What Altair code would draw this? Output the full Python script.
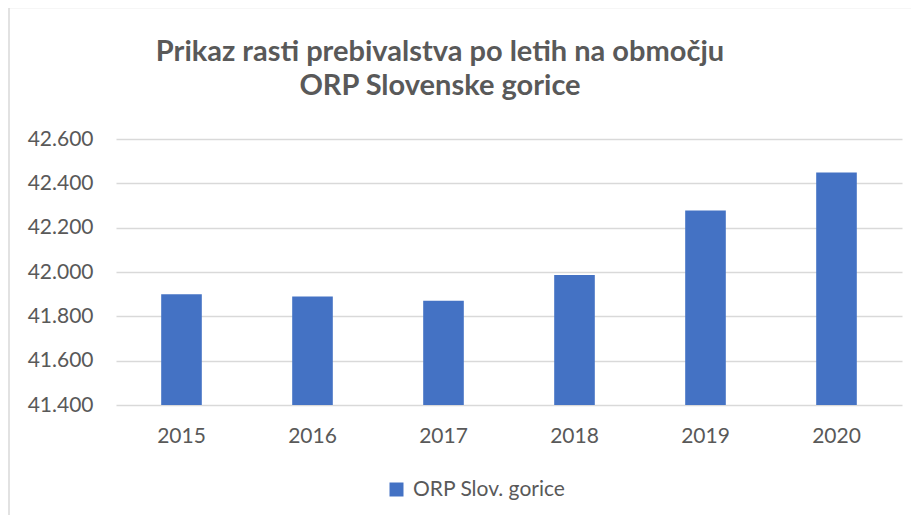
import altair as alt
import pandas as pd

years = ["2015", "2016", "2017", "2018", "2019", "2020"]
population = [41900, 41890, 41870, 41986, 42278, 42449]
series_name = ["ORP Slov. gorice"] * 6
y_ticks = [41400, 41600, 41800, 42000, 42200, 42400, 42600]
title_line_1 = "Prikaz rasti prebivalstva po letih na območju"
title_line_2 = "ORP Slovenske gorice"

df = pd.DataFrame({"leto": years, "prebivalci": population, "serija": series_name})

FONT = "Lato"
GRAY = "#595959"
GRID = "#d9d9d9"
BLUE = "#4472C4"
W, H = 786, 266

bars = alt.Chart(df).mark_bar(clip=True).encode(
    x=alt.X(
        "leto:N", sort=years,
        scale=alt.Scale(paddingInner=0.69, paddingOuter=0.345),
        axis=alt.Axis(title=None, labelAngle=0, ticks=False, domain=False,
                      labelPadding=20, labelFontSize=21, labelColor=GRAY,
                      labelFont=FONT, grid=False),
    ),
    y=alt.Y(
        "prebivalci:Q",
        scale=alt.Scale(domain=[y_ticks[0], y_ticks[-1]], zero=False, nice=False),
        axis=alt.Axis(title=None, values=y_ticks,
                      labelExpr="replace(format(datum.value, ','), ',', '.')",
                      ticks=False, domain=False, gridColor=GRID, gridWidth=1.3,
                      labelPadding=23, labelFontSize=21, labelColor=GRAY,
                      labelFont=FONT),
    ),
    color=alt.Color(
        "serija:N", scale=alt.Scale(range=[BLUE]),
        legend=alt.Legend(title=None, orient="none", legendX=270, legendY=340,
                          symbolType="square", symbolSize=196, symbolStrokeWidth=0,
                          labelFontSize=21, labelColor=GRAY, labelFont=FONT,
                          labelOffset=6, padding=0),
    ),
)

one = alt.Data(values=[{"a": 1}])

border_top = alt.Chart(one).mark_rule(color=GRID, strokeWidth=1.5).encode(
    x=alt.value(-107), x2=alt.value(W + 200), y=alt.value(-131.5)
)
border_left = alt.Chart(one).mark_rule(color=GRID, strokeWidth=1.5).encode(
    x=alt.value(-107), y=alt.value(-131.5), y2=alt.value(H + 200)
)

t1 = alt.Chart(one).mark_text(font=FONT, fontSize=29, fontWeight="bold", color=GRAY,
                              align="center", baseline="alphabetic").encode(
    x=alt.value(324), y=alt.value(-78), text=alt.value(title_line_1)
)
t2 = alt.Chart(one).mark_text(font=FONT, fontSize=29, fontWeight="bold", color=GRAY,
                              align="center", baseline="alphabetic").encode(
    x=alt.value(324), y=alt.value(-44), text=alt.value(title_line_2)
)

chart = alt.layer(border_top, border_left, bars, t1, t2).properties(
    width=W, height=H,
    autosize=alt.AutoSizeParams(type="none"),
    padding={"left": 108, "top": 131, "right": 9, "bottom": 110},
).configure_view(stroke=None)

chart.save("out.html", embed_options={"renderer": "svg", "actions": False})
